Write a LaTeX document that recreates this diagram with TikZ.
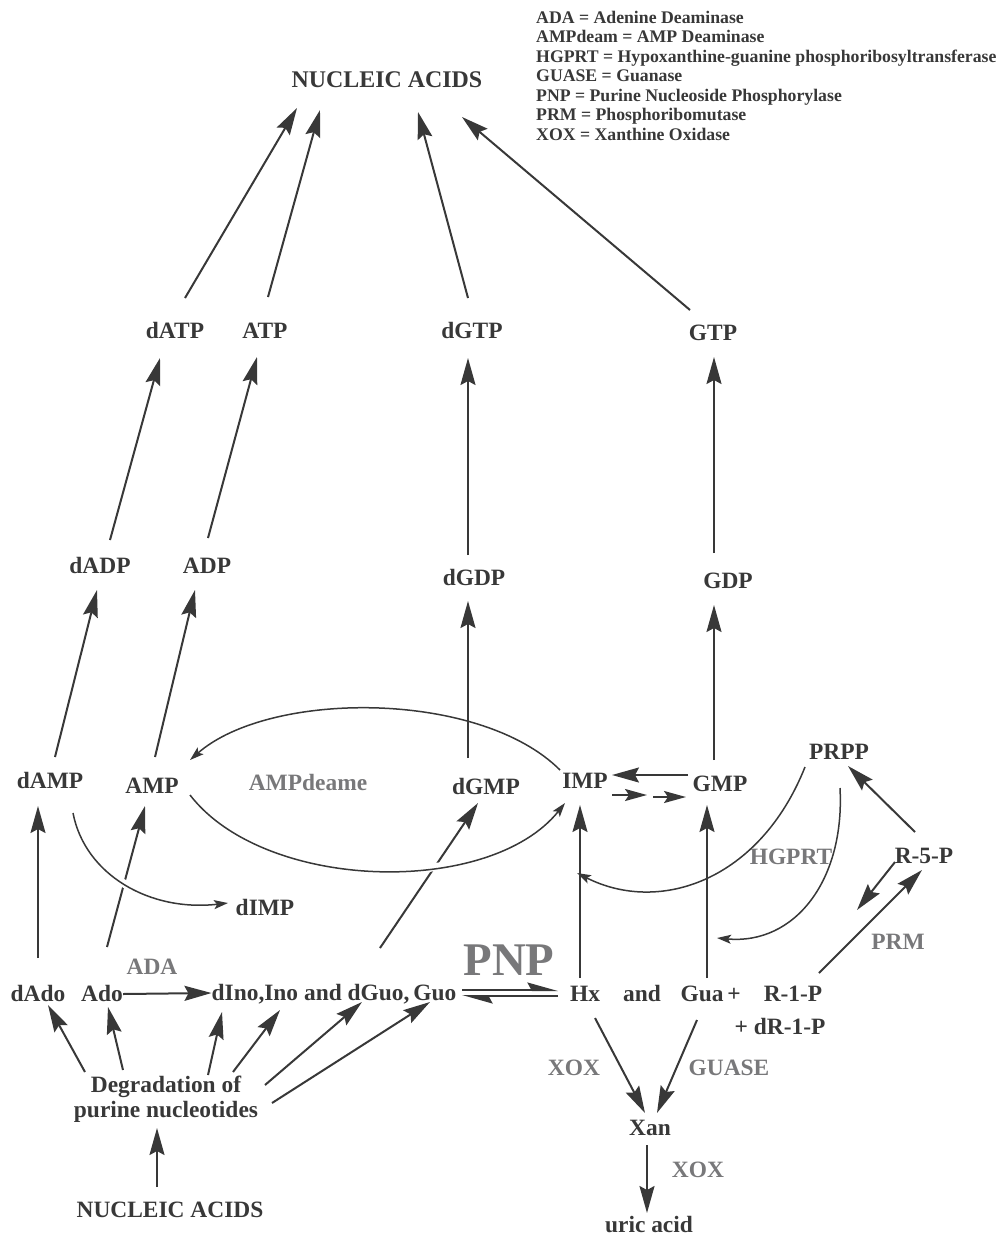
\documentclass[tikz,border=0pt]{standalone}
\usepackage{fontspec}
\setmainfont{Liberation Serif}
\usetikzlibrary{arrows.meta}
\definecolor{ink}{HTML}{383838}
\definecolor{enzgray}{HTML}{78787A}
\tikzset{
  met/.style={font=\fontsize{23.5}{28}\selectfont\bfseries, text=ink, inner sep=0pt, text height=16bp, text depth=1bp},
  enz/.style={met, text=enzgray},
  rxn/.style={draw=ink, line width=2bp, ->},
  loop/.style={draw=ink, line width=1.5bp, -{Stealth[length=14bp,width=9bp,inset=3bp]}},
  gapped/.style={preaction={draw=white, line width=8bp, -}},
}
\begin{document}
\begin{tikzpicture}[x=1bp, y=-1bp, >={Stealth[length=27bp,width=15bp,inset=4bp]}]
\useasboundingbox (0,0) rectangle (999,1238);
\path
(387,80)  node[met, font=\fontsize{24}{30}\selectfont\bfseries] (NAtop) {NUCLEIC ACIDS}
(536,11)  node[anchor=north west, align=left, inner sep=0pt, text=ink,
               font=\fontsize{17.8}{19.5}\selectfont\bfseries] (key)
          {ADA = Adenine Deaminase\\
           AMPdeam = AMP Deaminase\\
           HGPRT = Hypoxanthine-guanine phosphoribosyltransferase\\
           GUASE = Guanase\\
           PNP = Purine Nucleoside Phosphorylase\\
           PRM = Phosphoribomutase\\
           XOX = Xanthine Oxidase}
(175,331) node[met] (dATP) {dATP}
(265,331) node[met] (ATP)  {ATP}
(472,331) node[met] (dGTP) {dGTP}
(713,333) node[met] (GTP)  {GTP}
(100,566) node[met] (dADP) {dADP}
(207,566) node[met] (ADP)  {ADP}
(474,578) node[met] (dGDP) {dGDP}
(728,581) node[met] (GDP)  {GDP}
(50,781)  node[met] (dAMP) {dAMP}
(152,786) node[met] (AMP)  {AMP}
(486,787) node[met] (dGMP) {dGMP}
(585,781) node[met] (IMP)  {IMP}
(720,784) node[met] (GMP)  {GMP}
(839,752) node[met] (PRPP) {PRPP}
(924,856) node[met] (R5P)  {R-5-P}
(265,908) node[met] (dIMP) {dIMP}
(38,994)  node[met] (dAdo) {dAdo}
(102,994) node[met] (Ado)  {Ado}
(334,993) node[met] (dIno) {dIno,Ino and dGuo,\,Guo}
(585,994) node[met] (Hx)   {Hx}
(642,994) node[met] (and)  {and}
(702,994) node[met] (Gua)  {Gua}
(734,994) node[met] (plus) {+}
(793,994) node[met] (R1P)  {R-1-P}
(780,1027) node[met] (dR1P) {+ dR-1-P}
(650,1128) node[met] (Xan)  {Xan}
(649,1225) node[met] (uric) {uric acid}
(166,1099) node[align=center, inner sep=0pt, text=ink,
                font=\fontsize{23.5}{25}\selectfont\bfseries] (deg)
          {Degradation of\\purine nucleotides}
(170,1210) node[met] (NAbot) {NUCLEIC ACIDS};

% enzymes
\path
(308,783)  node[enz] (AMPdeam) {AMPdeame}
(152,967)  node[enz] (ADA)   {ADA}
(509,960)  node[enz, font=\fontsize{47}{50}\selectfont\bfseries, text height=32bp] (PNP) {PNP}
(791,857)  node[enz] (HGPRT) {HGPRT}
(898,942)  node[enz] (PRM)   {PRM}
(574,1068) node[enz] (XOX1)  {XOX}
(729,1068) node[enz] (GUASE) {GUASE}
(698,1170) node[enz] (XOX2)  {XOX};

\coordinate (hgEnd)  at (577,873);
\coordinate (guaEnd) at (717,938);
\coordinate (prmEnd) at (857,910);

% up to the nucleic acids
\draw[rxn] ([shift={(10,-33)}]dATP.center) -- ([shift={(-90,28)}]NAtop.center);
\draw[rxn] ([shift={(3,-34)}]ATP.center) -- ([shift={(-67,30)}]NAtop.center);
\draw[rxn] ([shift={(-4,-33)}]dGTP.center) -- ([shift={(31,32)}]NAtop.center);
\draw[rxn] ([shift={(-23,-23)}]GTP.center) -- ([shift={(75,37)}]NAtop.center);

\draw[rxn] ([shift={(10,-26)}]dADP.center) -- ([shift={(-15,27)}]dATP.center);
\draw[rxn] ([shift={(1,-28)}]ADP.center) -- ([shift={(-8,26)}]ATP.center);
\draw[rxn] ([shift={(-6,-23)}]dGDP.center) -- ([shift={(-4,27)}]dGTP.center);
\draw[rxn] ([shift={(-14,-28)}]GDP.center) -- ([shift={(1,24)}]GTP.center);

\draw[rxn] ([shift={(5,-24)}]dAMP.center) -- ([shift={(-3,24)}]dADP.center);
\draw[rxn] ([shift={(3,-29)}]AMP.center) -- ([shift={(-12,24)}]ADP.center);
\draw[rxn] ([shift={(-18,-29)}]dGMP.center) -- ([shift={(-6,23)}]dGDP.center);
\draw[rxn] ([shift={(-6,-24)}]GMP.center) -- ([shift={(-14,24)}]GDP.center);

\draw[rxn] ([shift={(0,-36)}]dAdo.center) -- ([shift={(-12,25)}]dAMP.center);
\draw[rxn] ([shift={(5,-47)}]Ado.center) -- ([shift={(-7,20)}]AMP.center);
\draw[rxn] ([shift={(46,-45)}]dIno.center) -- ([shift={(-8,16)}]dGMP.center);

% AMP / IMP loop
\draw[loop, gapped] ([shift={(23,32)}]dAMP.center)
  .. controls (85,875) and (150,912) .. ([shift={(-37,-5)}]dIMP.center);
\draw[loop, gapped] ([shift={(38,9)}]AMP.center)
  .. controls (265,892) and (490,897) .. ([shift={(-20,22)}]IMP.center);
\draw[loop] ([shift={(-25,-11)}]IMP.center)
  .. controls (480,690) and (270,690) .. ([shift={(38,-26)}]AMP.center);

\draw[rxn] ([shift={(-32,-9)}]GMP.center) -- ([shift={(27,-6)}]IMP.center);
\draw[draw=ink, line width=2bp, -{Stealth[length=22bp,width=12bp,inset=4bp]}]
  ([shift={(27,14)}]IMP.center) -- ([shift={(62,14)}]IMP.center);
\draw[draw=ink, line width=2bp, -{Stealth[length=22bp,width=12bp,inset=4bp]}]
  ([shift={(-67,13)}]GMP.center) -- ([shift={(-34,13)}]GMP.center);

\draw[rxn] ([shift={(-5,-16)}]Hx.center) -- ([shift={(-5,24)}]IMP.center);
\draw[rxn] ([shift={(5,-16)}]Gua.center) -- ([shift={(-13,21)}]GMP.center);

% salvage
\draw[loop] ([shift={(-34,15)}]PRPP.center)
  .. controls (760,880) and (660,915) .. (hgEnd);
\draw[loop] ([shift={(1,36)}]PRPP.center)
  .. controls (845,880) and (795,945) .. (guaEnd);
\draw[rxn] ([shift={(-9,-24)}]R5P.center) -- ([shift={(9,14)}]PRPP.center);
\draw[rxn] ([shift={(-29,6)}]R5P.center) -- (prmEnd);
\draw[rxn] ([shift={(26,-21)}]R1P.center) -- ([shift={(-2,14)}]R5P.center);

% PNP
\draw[draw=ink, line width=2bp, -{Stealth[left,length=27bp,width=15bp,inset=4bp]}]
  ([shift={(128,-3)}]dIno.center) -- ([shift={(-27,-4)}]Hx.center);
\draw[draw=ink, line width=2bp, -{Stealth[left,length=27bp,width=15bp,inset=4bp]}]
  ([shift={(-27,2)}]Hx.center) -- ([shift={(128,3)}]dIno.center);
\draw[rxn] (Ado.east) -- (dIno.west);

% degradation
\draw[rxn] ([shift={(-81,-27)}]deg.center) -- ([shift={(10,11)}]dAdo.center);
\draw[rxn] ([shift={(-43,-29)}]deg.center) -- ([shift={(6,13)}]Ado.center);
\draw[rxn] ([shift={(42,-24)}]deg.center) -- ([shift={(-112,19)}]dIno.center);
\draw[rxn] ([shift={(67,-27)}]deg.center) -- ([shift={(-54,17)}]dIno.center);
\draw[rxn] ([shift={(99,-14)}]deg.center) -- ([shift={(28,9)}]dIno.center);
\draw[rxn] ([shift={(106,4)}]deg.center) -- ([shift={(96,9)}]dIno.center);
\draw[rxn] ([shift={(-13,-23)}]NAbot.center) -- ([shift={(-9,29)}]deg.center);

% catabolism
\draw[rxn] ([shift={(10,24)}]Hx.center) -- ([shift={(-5,-15)}]Xan.center);
\draw[rxn] ([shift={(-5,26)}]Gua.center) -- ([shift={(7,-15)}]Xan.center);
\draw[rxn] ([shift={(-3,17)}]Xan.center) -- ([shift={(-2,-12)}]uric.center);
\end{tikzpicture}
\end{document}
